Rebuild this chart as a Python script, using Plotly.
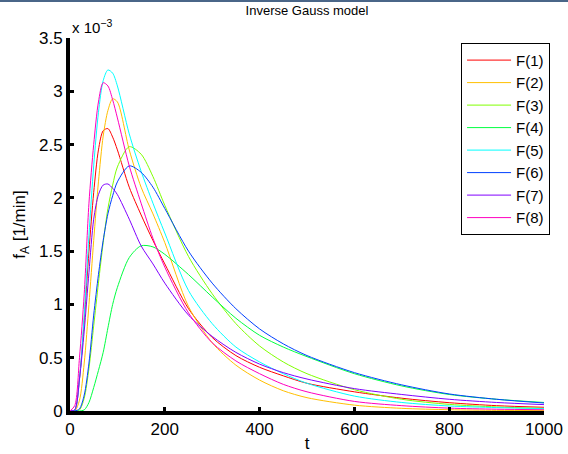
import plotly.graph_objects as go

# time axis (min)
t = [0, 10, 20, 30, 40, 50, 60, 70, 80, 90, 100, 125, 150, 175, 200,
     250, 300, 350, 400, 450, 500, 600, 700, 800, 900, 1000]

# f_A values in units of 1e-3 [1/min]
F1 = [0, 0.01, 0.3, 0.85, 1.5, 2.05, 2.45, 2.63, 2.65, 2.57, 2.45, 2.1, 1.84, 1.6, 1.38,
      0.96, 0.69, 0.52, 0.41, 0.33, 0.26, 0.18, 0.12, 0.078, 0.05, 0.035]
F2 = [0, 0, 0.1, 0.45, 1.0, 1.6, 2.15, 2.58, 2.82, 2.93, 2.9, 2.45, 2.1, 1.85, 1.58,
      0.98, 0.64, 0.43, 0.29, 0.19, 0.125, 0.055, 0.025, 0.012, 0.006, 0.004]
F3 = [0, 0, 0.01, 0.12, 0.4, 0.8, 1.2, 1.58, 1.9, 2.12, 2.29, 2.48, 2.41, 2.2, 1.93,
      1.45, 1.1, 0.82, 0.61, 0.46, 0.35, 0.2, 0.11, 0.062, 0.038, 0.025]
F4 = [0, 0, 0, 0.01, 0.08, 0.22, 0.38, 0.55, 0.78, 1.0, 1.16, 1.44, 1.55, 1.54, 1.47,
      1.28, 1.07, 0.87, 0.71, 0.6, 0.51, 0.35, 0.235, 0.155, 0.11, 0.08]
F5 = [0, 0.01, 0.3, 0.9, 1.65, 2.3, 2.8, 3.1, 3.2, 3.17, 3.05, 2.6, 2.25, 1.95, 1.67,
      1.13, 0.82, 0.6, 0.46, 0.35, 0.26, 0.14, 0.08, 0.047, 0.032, 0.022]
F6 = [0, 0, 0.02, 0.15, 0.45, 0.9, 1.28, 1.6, 1.85, 2.02, 2.15, 2.3, 2.24, 2.1, 1.9,
      1.5, 1.2, 0.96, 0.77, 0.63, 0.52, 0.36, 0.245, 0.16, 0.11, 0.075]
F7 = [0, 0.01, 0.3, 0.75, 1.3, 1.8, 2.03, 2.12, 2.13, 2.09, 2.03, 1.8, 1.55, 1.38, 1.2,
      0.9, 0.7, 0.55, 0.44, 0.36, 0.3, 0.21, 0.155, 0.11, 0.08, 0.06]
F8 = [0, 0.05, 0.5, 1.1, 1.95, 2.5, 2.9, 3.08, 3.05, 2.92, 2.75, 2.3, 1.95, 1.62, 1.35,
      0.92, 0.64, 0.47, 0.35, 0.25, 0.18, 0.09, 0.05, 0.027, 0.017, 0.012]

names = ["F(1)", "F(2)", "F(3)", "F(4)", "F(5)", "F(6)", "F(7)", "F(8)"]
series = [F1, F2, F3, F4, F5, F6, F7, F8]
colors = ["#ff0000", "#ffbf00", "#80ff00", "#00ff40", "#00ffff", "#0040ff", "#8000ff", "#ff00bf"]

y_ticks = [0, 0.5, 1, 1.5, 2, 2.5, 3, 3.5]
x_ticks = [0, 200, 400, 600, 800, 1000]

FONT = "Liberation Sans, Arial, Helvetica, sans-serif"

fig = go.Figure()
for name, vals, col in zip(names, series, colors):
    fig.add_trace(go.Scatter(x=t, y=vals, name=name, mode="lines",
                             line=dict(color=col, width=1, shape="spline", smoothing=0.8)))

fig.update_layout(
    width=568, height=454,
    margin=dict(l=70, r=24, t=38, b=43, autoexpand=False),
    paper_bgcolor="white", plot_bgcolor="white",
    font=dict(family=FONT, color="black"),
    title=dict(text="Inverse Gauss model", x=0.5405, xanchor="center", y=0.978, yanchor="middle",
               font=dict(size=13, family=FONT)),
    showlegend=True,
    legend=dict(x=0.825, y=0.987, xanchor="left", yanchor="top",
                bgcolor="white", bordercolor="black", borderwidth=1,
                font=dict(size=15, family=FONT), itemwidth=44, tracegroupgap=0),
    shapes=[dict(type="rect", xref="paper", yref="paper", x0=-0.16, x1=1.07,
                 y0=1.0965, y1=1.11, line=dict(width=0), fillcolor="#4a6688", layer="above")],
)
fig.update_xaxes(range=[0, 1000], tickvals=x_ticks, ticks="inside", ticklen=4, tickwidth=3,
                 tickcolor="black", showline=True, linecolor="black", linewidth=4,
                 showgrid=False, zeroline=False, tickfont=dict(size=17, family=FONT),
                 automargin=False,
                 title=dict(text="t", font=dict(size=17, family=FONT), standoff=0))
fig.update_yaxes(range=[0, 3.5], tickvals=y_ticks, ticks="inside", ticklen=4, tickwidth=3,
                 tickcolor="black", showline=True, linecolor="black", linewidth=4,
                 showgrid=False, zeroline=False, tickfont=dict(size=17, family=FONT),
                 automargin=False,
                 title=dict(text="f<sub>A</sub> [1/min]", font=dict(size=17, family=FONT), standoff=10))
fig.add_annotation(text="x 10<sup>−3</sup>", xref="paper", yref="paper", x=0, y=1.0,
                   xanchor="left", yanchor="bottom", showarrow=False,
                   font=dict(size=15, family=FONT))
fig.write_html("out.html")
